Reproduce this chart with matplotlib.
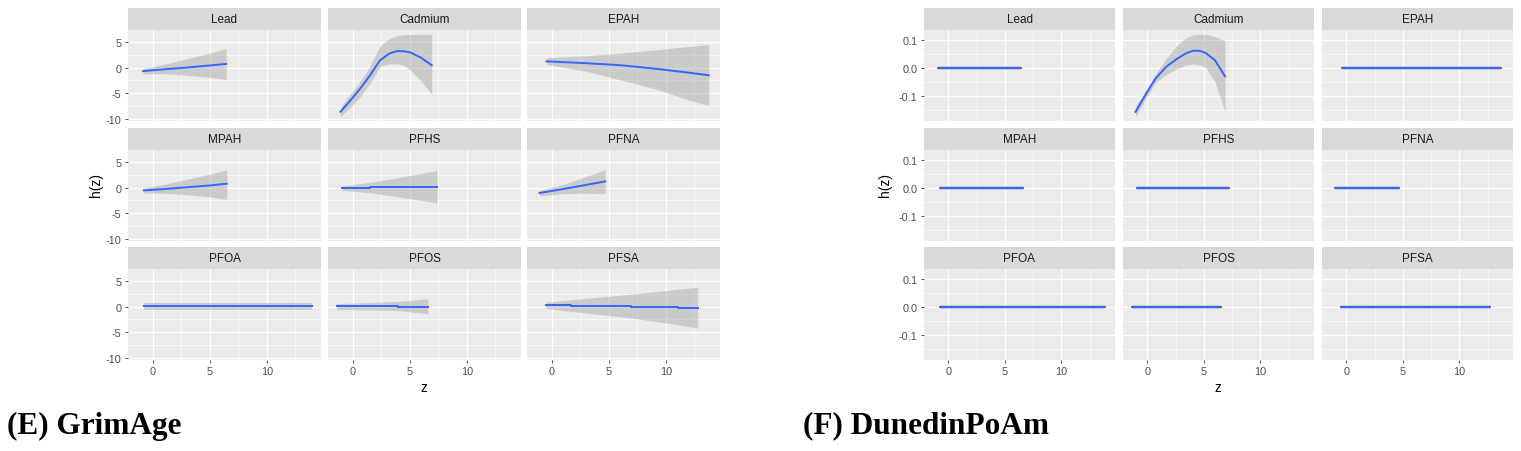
import matplotlib
matplotlib.use("Agg")
import matplotlib.pyplot as plt
from matplotlib.patches import Rectangle

plt.rcParams['font.family'] = ['Liberation Sans', 'DejaVu Sans']

exposures = ["Lead", "Cadmium", "EPAH", "MPAH", "PFHS", "PFNA", "PFOA", "PFOS", "PFSA"]

# (E) GrimAge : z, h(z), lower, upper
grim_lead_z = [-0.84, 1, 3, 5, 6.45]
grim_lead_h = [-0.7, -0.35, 0.0, 0.4, 0.7]
grim_lead_lo = [-1.25, -1.2, -1.5, -1.9, -2.3]
grim_lead_hi = [-0.2, 0.6, 1.7, 2.8, 3.7]

grim_cad_z = [-1.05, 0, 0.7, 1.5, 2.4, 3.2, 3.9, 4.6, 5.1, 6.0, 6.93]
grim_cad_h = [-8.6, -5.9, -4.0, -1.6, 1.4, 2.7, 3.2, 3.15, 2.9, 1.9, 0.45]
grim_cad_lo = [-9.5, -7.3, -5.6, -3.2, 0.2, 0.7, 0.75, 0.3, -0.6, -2.6, -5.2]
grim_cad_hi = [-7.7, -4.6, -2.6, 0.2, 4.2, 5.6, 6.2, 6.4, 6.45, 6.45, 6.45]

grim_epah_z = [-0.44, 3, 6, 9, 12, 13.76]
grim_epah_h = [1.2, 0.85, 0.45, -0.2, -1.0, -1.5]
grim_epah_lo = [0.6, -0.7, -2.4, -4.1, -6.3, -7.4]
grim_epah_hi = [1.9, 2.3, 2.8, 3.4, 4.1, 4.5]

grim_mpah_z = [-0.75, 1, 3, 5, 6.5]
grim_mpah_h = [-0.55, -0.3, 0.05, 0.4, 0.75]
grim_mpah_lo = [-1.1, -1.1, -1.4, -1.8, -2.3]
grim_mpah_hi = [-0.1, 0.6, 1.6, 2.6, 3.4]

grim_pfhs_z = [-0.9, 1.5, 1.5, 4, 7.4]
grim_pfhs_h = [-0.1, -0.1, 0.1, 0.1, 0.1]
grim_pfhs_lo = [-0.55, -1.0, -1.0, -1.8, -3.0]
grim_pfhs_hi = [0.35, 1.0, 1.0, 1.9, 3.3]

grim_pfna_z = [-1.05, 1, 3, 4.7]
grim_pfna_h = [-1.05, -0.3, 0.5, 1.2]
grim_pfna_lo = [-1.6, -1.2, -1.1, -1.2]
grim_pfna_hi = [-0.6, 0.6, 2.1, 3.5]

grim_pfoa_z = [-0.75, 14.0]
grim_pfoa_h = [0.1, 0.1]
grim_pfoa_lo = [-0.6, -0.6]
grim_pfoa_hi = [0.6, 0.6]

grim_pfos_z = [-1.4, 4.0, 4.0, 6.6]
grim_pfos_h = [0.1, 0.1, -0.1, -0.1]
grim_pfos_lo = [-0.55, -0.8, -0.8, -1.4]
grim_pfos_hi = [0.55, 1.0, 1.0, 1.5]

grim_pfsa_z = [-0.5, 1.7, 1.7, 6.95, 6.95, 11.1, 11.1, 12.8]
grim_pfsa_h = [0.35, 0.35, 0.1, 0.1, -0.05, -0.05, -0.25, -0.25]
grim_pfsa_lo = [-0.35, -0.95, -0.95, -2.2, -2.2, -3.55, -3.55, -4.2]
grim_pfsa_hi = [0.85, 1.3, 1.3, 2.4, 2.4, 3.35, 3.35, 3.75]

# (F) DunedinPoAm
dun_cad_z = [-1.04, 0, 0.74, 1.7, 2.6, 3.4, 4.07, 4.7, 5.2, 6.0, 6.88]
dun_cad_h = [-0.157, -0.085, -0.037, 0.005, 0.032, 0.052, 0.062, 0.061, 0.053, 0.027, -0.030]
dun_cad_lo = [-0.174, -0.1, -0.052, -0.022, -0.004, 0.010, 0.014, 0.010, 0.0, -0.05, -0.157]
dun_cad_hi = [-0.136, -0.075, -0.022, 0.035, 0.080, 0.108, 0.119, 0.121, 0.120, 0.112, 0.098]

# flat effects: z range of each exposure, h = 0, small band
dun_flat_range = {
    "Lead": [-0.88, 6.4], "EPAH": [-0.4, 13.7], "MPAH": [-0.73, 6.6],
    "PFHS": [-0.88, 7.26], "PFNA": [-1.03, 4.65], "PFOA": [-0.73, 13.9],
    "PFOS": [-1.36, 6.5], "PFSA": [-0.46, 12.7],
}
dun_flat_h = [0.0, 0.0]
dun_flat_lo = [-0.008, -0.008]
dun_flat_hi = [0.008, 0.008]

grim = {
    "Lead": (grim_lead_z, grim_lead_h, grim_lead_lo, grim_lead_hi),
    "Cadmium": (grim_cad_z, grim_cad_h, grim_cad_lo, grim_cad_hi),
    "EPAH": (grim_epah_z, grim_epah_h, grim_epah_lo, grim_epah_hi),
    "MPAH": (grim_mpah_z, grim_mpah_h, grim_mpah_lo, grim_mpah_hi),
    "PFHS": (grim_pfhs_z, grim_pfhs_h, grim_pfhs_lo, grim_pfhs_hi),
    "PFNA": (grim_pfna_z, grim_pfna_h, grim_pfna_lo, grim_pfna_hi),
    "PFOA": (grim_pfoa_z, grim_pfoa_h, grim_pfoa_lo, grim_pfoa_hi),
    "PFOS": (grim_pfos_z, grim_pfos_h, grim_pfos_lo, grim_pfos_hi),
    "PFSA": (grim_pfsa_z, grim_pfsa_h, grim_pfsa_lo, grim_pfsa_hi),
}
dun = {k: (v, dun_flat_h, dun_flat_lo, dun_flat_hi) for k, v in dun_flat_range.items()}
dun["Cadmium"] = (dun_cad_z, dun_cad_h, dun_cad_lo, dun_cad_hi)

W, H = 1521, 452
fig = plt.figure(figsize=(W / 100, H / 100), dpi=100)

row_tops = [31, 151, 270]
panel_h = 91
strip_h = 22


def facet_grid(data, col_lefts, col_w, ylim, yticks, yminor, ylabels, ylab_x, z_x):
    for i, name in enumerate(exposures):
        r, c = divmod(i, 3)
        top = row_tops[r]
        ax = fig.add_axes([col_lefts[c] / W, 1 - (top + panel_h) / H, col_w / W, panel_h / H])
        ax.set_facecolor('#EBEBEB')
        for s in ax.spines.values():
            s.set_visible(False)
        ax.set_xlim(-2.15, 14.75)
        ax.set_ylim(*ylim)
        ax.set_xticks([0, 5, 10])
        ax.set_xticks([2.5, 7.5, 12.5], minor=True)
        ax.set_yticks(yticks)
        ax.set_yticks(yminor, minor=True)
        ax.grid(which='major', color='white', lw=0.9)
        ax.grid(which='minor', color='white', lw=0.45)
        ax.set_axisbelow(True)
        ax.tick_params(which='minor', length=0)
        ax.tick_params(which='major', length=2.5, width=0.6, color='#333333',
                       labelsize=7.8, labelcolor='#4D4D4D', pad=2)
        if c == 0:
            ax.set_yticklabels(ylabels)
        else:
            ax.tick_params(axis='y', which='major', length=0, labelleft=False)
        if r != 2:
            ax.tick_params(axis='x', which='major', length=0, labelbottom=False)
        z, h, lo, hi = data[name]
        ax.fill_between(z, lo, hi, color='#999999', alpha=0.4, lw=0)
        ax.plot(z, h, color='#3366FF', lw=1.4)
        ax.add_patch(Rectangle((0, 1), 1, strip_h / panel_h, transform=ax.transAxes,
                               facecolor='#D9D9D9', edgecolor='none', clip_on=False))
        ax.text(0.5, 1 + strip_h / panel_h / 2, name, transform=ax.transAxes,
                ha='center', va='center', fontsize=8.5, color='#1A1A1A')
    fig.text(ylab_x / W, 1 - 185 / H, 'h(z)', rotation=90, ha='center', va='center',
             fontsize=10, color='black')
    fig.text(z_x / W, 1 - 388 / H, 'z', ha='center', va='center', fontsize=10, color='black')


facet_grid(grim, [128, 328, 527], 193, (-10.4, 7.3), [-10, -5, 0, 5], [-7.5, -2.5, 2.5],
           ['-10', '-5', '0', '5'], 96, 424)
facet_grid(dun, [924, 1123, 1322], 191, (-0.19, 0.136), [-0.1, 0.0, 0.1], [-0.15, -0.05, 0.05],
           ['-0.1', '0.0', '0.1'], 885, 1218)

cap_font = ['Liberation Serif', 'DejaVu Serif']
fig.text(7 / W, 1 - 426 / H, '(E) GrimAge', family=cap_font, fontweight='bold',
         fontsize=22.5, ha='left', va='center')
fig.text(803 / W, 1 - 426 / H, '(F) DunedinPoAm', family=cap_font, fontweight='bold',
         fontsize=22.5, ha='left', va='center')

fig.savefig('out.png', dpi=100, facecolor='white')
